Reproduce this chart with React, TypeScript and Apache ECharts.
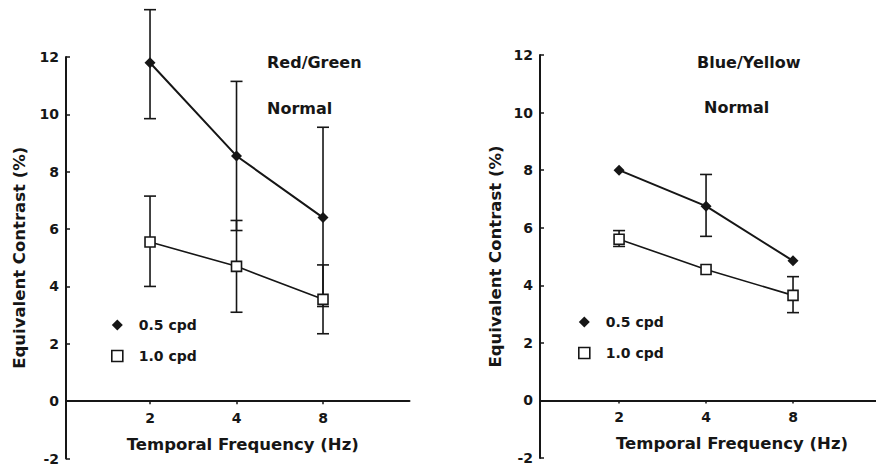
import React, { useEffect, useRef } from "react";
import * as echarts from "echarts";

const frequencies = [2, 4, 8];
const yTicks = [-2, 0, 2, 4, 6, 8, 10, 12];
const seriesNames = ["0.5 cpd", "1.0 cpd"];

// Red/Green panel
const rgLowSF = [11.8, 8.55, 6.4];
const rgLowSFErrLo = [9.85, 5.95, 3.3];
const rgLowSFErrHi = [13.65, 11.15, 9.55];
const rgHighSF = [5.55, 4.7, 3.55];
const rgHighSFErrLo = [4.0, 3.1, 2.35];
const rgHighSFErrHi = [7.15, 6.3, 4.75];

// Blue/Yellow panel
const byLowSF = [8.0, 6.75, 4.85];
const byLowSFErrLo = [null, 5.7, null];
const byLowSFErrHi = [null, 7.85, null];
const byHighSF = [5.6, 4.55, 3.65];
const byHighSFErrLo = [5.35, null, 3.05];
const byHighSFErrHi = [5.9, null, 4.3];

const INK = "#161616";
const FONT = "DejaVu Sans, Liberation Sans, Arial, sans-serif";

function pts(vals: number[]) {
  return frequencies.map((f, i) => [f, vals[i]]);
}
function errs(lo: (number | null)[], hi: (number | null)[]) {
  const out: number[][] = [];
  frequencies.forEach((f, i) => {
    if (lo[i] != null && hi[i] != null) out.push([f, lo[i] as number, hi[i] as number]);
  });
  return out;
}

const renderErr = (params: any, api: any) => {
  const x = api.value(0);
  const lo = api.coord([x, api.value(1)]);
  const hi = api.coord([x, api.value(2)]);
  const w = 6;
  const style = { stroke: INK, lineWidth: 1.6 };
  return {
    type: "group",
    children: [
      { type: "line", shape: { x1: lo[0], y1: lo[1], x2: hi[0], y2: hi[1] }, style },
      { type: "line", shape: { x1: lo[0] - w, y1: lo[1], x2: lo[0] + w, y2: lo[1] }, style },
      { type: "line", shape: { x1: hi[0] - w, y1: hi[1], x2: hi[0] + w, y2: hi[1] }, style },
    ],
  };
};

function makeXAxis(idx: number, min: number, namePad: number[]) {
  return {
    type: "log",
    logBase: 2,
    gridIndex: idx,
    min,
    max: 16,
    name: "Temporal Frequency (Hz)",
    nameLocation: "middle",
    nameGap: -23,
    nameTextStyle: { fontFamily: FONT, fontWeight: "bold", fontSize: 16.5, color: INK, padding: namePad },
    axisLine: { onZero: true, lineStyle: { color: INK, width: 2 } },
    axisTick: { show: true, customValues: frequencies, length: 3, lineStyle: { color: INK, width: 1.5 } },
    axisLabel: {
      customValues: frequencies,
      formatter: (v: number) => String(Math.round(v)),
      fontFamily: FONT,
      fontWeight: "bold",
      fontSize: 14,
      color: INK,
      margin: -48,
    },
    splitLine: { show: false },
    minorTick: { show: false },
  };
}

function makeYAxis(idx: number, nameGap: number) {
  return {
    type: "value",
    gridIndex: idx,
    min: yTicks[0],
    max: yTicks[yTicks.length - 1],
    interval: 2,
    name: "Equivalent Contrast (%)",
    nameLocation: "middle",
    nameGap,
    nameTextStyle: { fontFamily: FONT, fontWeight: "bold", fontSize: 16.5, color: INK },
    axisLine: { show: true, lineStyle: { color: INK, width: 2 } },
    axisTick: { show: true, inside: true, length: 4, lineStyle: { color: INK, width: 1.5 } },
    axisLabel: { fontFamily: FONT, fontWeight: "bold", fontSize: 14, color: INK, margin: 7 },
    splitLine: { show: false },
  };
}

function lineSeries(name: string, idx: number, data: number[][], filled: boolean) {
  return {
    type: "line",
    name,
    xAxisIndex: idx,
    yAxisIndex: idx,
    data,
    symbol: filled ? "diamond" : "rect",
    symbolSize: filled ? 11 : 10,
    z: 5,
    lineStyle: { color: INK, width: filled ? 2 : 1.6 },
    itemStyle: filled
      ? { color: INK }
      : { color: "#fff", borderColor: INK, borderWidth: 1.6 },
  };
}

function errSeries(name: string, idx: number, data: number[][]) {
  return {
    type: "custom",
    name,
    xAxisIndex: idx,
    yAxisIndex: idx,
    data,
    encode: { x: 0, y: [1, 2] },
    renderItem: renderErr,
    z: 3,
    silent: true,
  };
}

function makeLegend(left: number, top: number) {
  return {
    orient: "vertical",
    left,
    top,
    padding: 0,
    itemWidth: 11,
    itemHeight: 11,
    itemGap: 17,
    selectedMode: false,
    textStyle: {
      fontFamily: FONT,
      fontWeight: "bold",
      fontSize: 14,
      color: INK,
      lineHeight: 14,
      padding: [0, 0, 0, 11],
    },
    data: [
      { name: seriesNames[0], icon: "diamond", itemStyle: { color: INK, borderWidth: 0 } },
      { name: seriesNames[1], icon: "rect", itemStyle: { color: "#fff", borderColor: INK, borderWidth: 1.6 } },
    ],
  };
}

function titleText(text: string, x: number, y: number) {
  return {
    type: "text",
    x,
    y,
    style: { text, fill: INK, font: `bold 16px ${FONT}`, textVerticalAlign: "middle" },
  };
}

export default function App() {
  const ref = useRef<HTMLDivElement>(null);
  useEffect(() => {
    if (!ref.current) return;
    const chart = echarts.init(ref.current, null, { renderer: "svg" });
    chart.setOption({
      animation: false,
      backgroundColor: "#ffffff",
      grid: [
        { left: 66, top: 57, width: 343.5, height: 401.5, containLabel: false, outerBoundsMode: "none" },
        { left: 540, top: 55, width: 340, height: 403, containLabel: false, outerBoundsMode: "none" },
      ],
      xAxis: [makeXAxis(0, 1.02, [0, 0, 0, 10]), makeXAxis(1, 1.065, [0, 0, 0, 44])],
      yAxis: [makeYAxis(0, 38), makeYAxis(1, 36)],
      legend: [makeLegend(111, 318), makeLegend(578, 315)],
      graphic: [
        titleText("Red/Green", 267, 62),
        titleText("Normal", 267, 108),
        titleText("Blue/Yellow", 697, 62),
        titleText("Normal", 704, 107),
      ],
      series: [
        errSeries("rg-err-0.5", 0, errs(rgLowSFErrLo, rgLowSFErrHi)),
        errSeries("rg-err-1.0", 0, errs(rgHighSFErrLo, rgHighSFErrHi)),
        lineSeries(seriesNames[0], 0, pts(rgLowSF), true),
        lineSeries(seriesNames[1], 0, pts(rgHighSF), false),
        errSeries("by-err-0.5", 1, errs(byLowSFErrLo, byLowSFErrHi)),
        errSeries("by-err-1.0", 1, errs(byHighSFErrLo, byHighSFErrHi)),
        lineSeries(seriesNames[0], 1, pts(byLowSF), true),
        lineSeries(seriesNames[1], 1, pts(byHighSF), false),
      ],
    });
    return () => chart.dispose();
  }, []);
  return (
    <div
      ref={ref}
      style={{ position: "fixed", left: 0, top: 0, width: 876, height: 466, background: "#fff" }}
    />
  );
}
